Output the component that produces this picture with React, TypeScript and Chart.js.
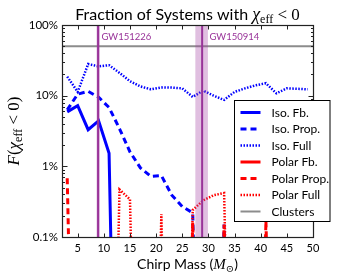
import React, { useEffect, useRef } from "react";
import { Chart, registerables } from "chart.js";

Chart.register(...registerables);

// ---------------- data ----------------
const chirpMass = [3, 5, 7, 9, 11, 13, 15, 17, 19, 21, 23, 25, 27, 29, 31, 33, 35, 37, 39, 41, 43, 45, 47, 49];
const isoFb = [0.059, 0.072, 0.033, 0.044, 0.0153, 0, 0, 0, 0, 0, 0, 0, 0, 0, 0, 0, 0, 0, 0, 0, 0, 0, 0, 0];
const isoProp = [0.063, 0.105, 0.115, 0.095, 0.068, 0.034, 0.016, 0.0095, 0.0072, 0.0074, 0.0039, 0.0027, 0.0022, 0, 0, 0.0015, 0, 0, 0, 0, 0, 0, 0, 0];
const isoFull = [0.186, 0.113, 0.28, 0.26, 0.27, 0.21, 0.16, 0.135, 0.123, 0.131, 0.13, 0.127, 0.096, 0.118, 0.1, 0.087, 0.113, 0.127, 0.14, 0.15, 0.108, 0.127, 0.125, 0.123];
const polarFb = [0, 0, 0, 0, 0, 0, 0, 0, 0, 0, 0, 0, 0, 0, 0, 0, 0, 0, 0, 0, 0, 0, 0, 0];
const polarProp = [0.0068, 0, 0, 0, 0, 0, 0, 0, 0, 0, 0, 0, 0.0016, 0, 0, 0.0015, 0, 0, 0, 0.0017, 0, 0, 0, 0];
const polarFull = [0, 0, 0, 0, 0, 0.0047, 0.0034, 0, 0, 0.0021, 0, 0, 0.0024, 0.0033, 0.0039, 0.0042, 0, 0, 0, 0, 0, 0, 0, 0];
const clustersMass = [2, 50];
const clustersFraction = [0.5, 0.5];

const xTicks = [5, 10, 15, 20, 25, 30, 35, 40, 45, 50];
const yTicks = [0.001, 0.01, 0.1, 1];
const yTickLabels = ["0.1%", "1%", "10%", "100%"];

const gwNames = ["GW151226", "GW150914"];
const gwMass = [8.9, 28.8];
const gwLow = [8.6, 27.5];
const gwHigh = [9.25, 29.9];

// ---------------- styles ----------------
const SANS = "Lato, 'Open Sans', sans-serif";
const SERIF = "'Liberation Serif', 'DejaVu Serif', serif";
const BLUE = "#0000ff";
const RED = "#ff0000";
const GRAY = "#8c8c8c";
const PURPLE = "#993399";
const FLOOR = 1e-9;

type Part = { t: string; f: string; dy?: number };

function drawParts(ctx: CanvasRenderingContext2D, parts: Part[], x: number, y: number, align: "left" | "center") {
  ctx.save();
  ctx.textBaseline = "alphabetic";
  ctx.textAlign = "left";
  let w = 0;
  for (const p of parts) {
    ctx.font = p.f;
    w += ctx.measureText(p.t).width;
  }
  let cx = align === "center" ? x - w / 2 : x;
  for (const p of parts) {
    ctx.font = p.f;
    ctx.fillText(p.t, cx, y + (p.dy || 0));
    cx += ctx.measureText(p.t).width;
  }
  ctx.restore();
}

function series(values: number[]) {
  return chirpMass.map((m, i) => ({ x: m, y: values[i] > 0 ? values[i] : FLOOR }));
}

const decorPlugin = {
  id: "decor",
  afterDatasetsDraw(chart: any) {
    const { ctx, chartArea: a, scales } = chart;
    const xs = scales.x;
    ctx.save();
    ctx.beginPath();
    ctx.rect(a.left, a.top, a.right - a.left, a.bottom - a.top);
    ctx.clip();
    for (let i = 0; i < gwNames.length; i++) {
      const x0 = xs.getPixelForValue(gwLow[i]);
      const x1 = xs.getPixelForValue(gwHigh[i]);
      ctx.fillStyle = "rgba(160, 60, 160, 0.33)";
      ctx.fillRect(x0, a.top, x1 - x0, a.bottom - a.top);
      const xm = xs.getPixelForValue(gwMass[i]);
      ctx.strokeStyle = PURPLE;
      ctx.lineWidth = 2;
      ctx.beginPath();
      ctx.moveTo(xm, a.top);
      ctx.lineTo(xm, a.bottom);
      ctx.stroke();
      ctx.fillStyle = PURPLE;
      ctx.font = `9.5px ${SANS}`;
      ctx.textAlign = "left";
      ctx.textBaseline = "alphabetic";
      ctx.fillText(gwNames[i], xs.getPixelForValue(gwHigh[i]) + 1.5, a.top + 15);
    }
    ctx.restore();
  },
  afterDraw(chart: any) {
    const { ctx, chartArea: a, scales } = chart;
    const xs = scales.x;
    const ys = scales.y;
    ctx.save();
    // frame
    const L = Math.round(a.left) + 0.5;
    const R = Math.round(a.right) + 0.5;
    const T = Math.round(a.top) + 0.5;
    const B = Math.round(a.bottom) + 0.5;
    ctx.strokeStyle = "#222";
    ctx.lineWidth = 1.2;
    ctx.strokeRect(L, T, R - L, B - T);
    // ticks
    ctx.lineWidth = 1;
    ctx.beginPath();
    for (const v of xTicks) {
      const px = Math.round(xs.getPixelForValue(v)) + 0.5;
      ctx.moveTo(px, B);
      ctx.lineTo(px, B - 4);
      ctx.moveTo(px, T);
      ctx.lineTo(px, T + 4);
    }
    for (let d = 0; d < yTicks.length; d++) {
      const v = yTicks[d];
      const py = Math.round(ys.getPixelForValue(v)) + 0.5;
      ctx.moveTo(L, py);
      ctx.lineTo(L + 5, py);
      ctx.moveTo(R, py);
      ctx.lineTo(R - 5, py);
      if (d < yTicks.length - 1) {
        for (let k = 2; k <= 9; k++) {
          const pm = Math.round(ys.getPixelForValue(v * k)) + 0.5;
          ctx.moveTo(L, pm);
          ctx.lineTo(L + 2.5, pm);
          ctx.moveTo(R, pm);
          ctx.lineTo(R - 2.5, pm);
        }
      }
    }
    ctx.stroke();

    // titles
    ctx.fillStyle = "#000";
    const cx = (a.left + a.right) / 2;
    drawParts(
      ctx,
      [
        { t: "Fraction of Systems with ", f: `16px ${SANS}` },
        { t: "χ", f: `italic 18px ${SERIF}` },
        { t: "eff", f: `12px ${SERIF}`, dy: 3 },
        { t: " < 0", f: `17px ${SERIF}` },
      ],
      cx,
      20,
      "center"
    );
    drawParts(
      ctx,
      [
        { t: "Chirp Mass (", f: `14px ${SANS}` },
        { t: "M", f: `italic 15px ${SERIF}` },
        { t: "⊙", f: `10px ${SERIF}`, dy: 3 },
        { t: ")", f: `14px ${SANS}` },
      ],
      cx,
      269,
      "center"
    );
    ctx.save();
    ctx.translate(19, (a.top + a.bottom) / 2);
    ctx.rotate(-Math.PI / 2);
    drawParts(
      ctx,
      [
        { t: "F", f: `italic 17px ${SERIF}` },
        { t: "(", f: `17px ${SERIF}` },
        { t: "χ", f: `italic 17px ${SERIF}` },
        { t: "eff", f: `12px ${SERIF}`, dy: 3 },
        { t: " < 0)", f: `17px ${SERIF}` },
      ],
      0,
      0,
      "center"
    );
    ctx.restore();

    // legend
    const lx = a.right - 79;
    const ly = a.top + 75;
    const lw = 95.5;
    const lh = 121;
    ctx.fillStyle = "#fff";
    ctx.fillRect(lx, ly, lw, lh);
    ctx.strokeStyle = "#000";
    ctx.lineWidth = 1;
    ctx.strokeRect(Math.round(lx) + 0.5, Math.round(ly) + 0.5, lw, lh);
    const dsets = chart.data.datasets;
    dsets.forEach((ds: any, i: number) => {
      const y = ly + 12.5 + i * 16.5;
      ctx.save();
      ctx.strokeStyle = ds.borderColor;
      ctx.lineWidth = ds.borderWidth;
      ctx.setLineDash(ds.borderDash || []);
      ctx.lineCap = "butt";
      ctx.beginPath();
      ctx.moveTo(lx + 6.5, y);
      ctx.lineTo(lx + 26.5, y);
      ctx.stroke();
      ctx.restore();
      ctx.fillStyle = "#000";
      ctx.font = `12px ${SANS}`;
      ctx.textAlign = "left";
      ctx.textBaseline = "middle";
      ctx.fillText(ds.label, lx + 37.5, y + 0.5);
    });
    ctx.restore();
  },
};

export default function App() {
  const ref = useRef<HTMLCanvasElement>(null);
  useEffect(() => {
    document.body.style.margin = "0";
    const canvas = ref.current;
    if (!canvas) return;
    const mk = (label: string, values: number[], color: string, width: number, dash: number[], idx: number) => ({
      label,
      data: series(values),
      borderColor: color,
      backgroundColor: color,
      borderWidth: width,
      borderDash: dash,
      pointRadius: 0,
      tension: 0,
      fill: false,
      order: 20 - idx,
    });
    const DASH = [6, 4];
    const DOT = [1.5, 1.5];
    const chart = new Chart(canvas, {
      type: "line",
      data: {
        datasets: [
          mk("Iso. Fb.", isoFb, BLUE, 3, [], 0),
          mk("Iso. Prop.", isoProp, BLUE, 3, DASH, 1),
          mk("Iso. Full", isoFull, BLUE, 2.5, DOT, 2),
          mk("Polar Fb.", polarFb, RED, 3, [], 3),
          mk("Polar Prop.", polarProp, RED, 3, DASH, 4),
          mk("Polar Full", polarFull, RED, 2.5, DOT, 5),
          {
            label: "Clusters",
            data: clustersMass.map((m, i) => ({ x: m, y: clustersFraction[i] })),
            borderColor: GRAY,
            backgroundColor: GRAY,
            borderWidth: 2,
            borderDash: [],
            pointRadius: 0,
            fill: false,
            order: 14,
          },
        ],
      },
      options: {
        animation: false,
        responsive: false,
        devicePixelRatio: 1,
        layout: { padding: { top: 25, right: 37, left: 0, bottom: 0 } },
        plugins: { legend: { display: false }, tooltip: { enabled: false }, title: { display: false } },
        scales: {
          x: {
            type: "linear",
            min: 2,
            max: 50,
            grid: { display: false, drawTicks: false },
            border: { display: false },
            afterBuildTicks: (s: any) => {
              s.ticks = xTicks.map((v) => ({ value: v }));
            },
            afterFit: (s: any) => {
              s.height = 37;
            },
            ticks: {
              padding: 5,
              maxRotation: 0,
              autoSkip: false,
              color: "#000",
              font: { family: SANS, size: 11 },
              callback: (v: any) => String(v),
            },
          },
          y: {
            type: "logarithmic",
            min: 0.001,
            max: 1,
            grid: { display: false, drawTicks: false },
            border: { display: false },
            afterBuildTicks: (s: any) => {
              s.ticks = yTicks.map((v) => ({ value: v, major: true }));
            },
            afterFit: (s: any) => {
              s.width = 62;
            },
            ticks: {
              padding: 4,
              autoSkip: false,
              color: "#000",
              font: { family: SANS, size: 11.5 },
              callback: (v: any) => {
                const i = yTicks.findIndex((t) => Math.abs(t - v) / t < 1e-6);
                return i >= 0 ? yTickLabels[i] : "";
              },
            },
          },
        },
      },
      plugins: [decorPlugin],
    } as any);
    return () => chart.destroy();
  }, []);
  return (
    <div style={{ width: 350, height: 274 }}>
      <canvas ref={ref} width={350} height={274} style={{ display: "block" }} />
    </div>
  );
}
